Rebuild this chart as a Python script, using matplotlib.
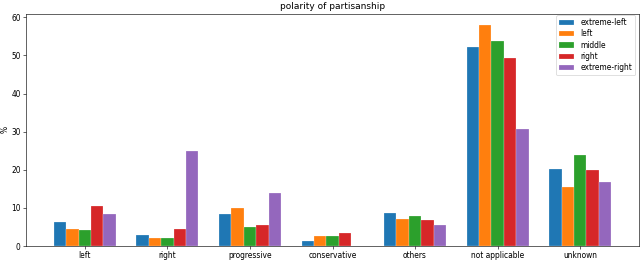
import numpy as np
import matplotlib
matplotlib.use("Agg")
import matplotlib.pyplot as plt

categories = ["left", "right", "progressive", "conservative", "others", "not applicable", "unknown"]
series_names = ["extreme-left", "left", "middle", "right", "extreme-right"]
extreme_left = [6.2, 2.8, 8.3, 1.3, 8.6, 52.1, 20.2]
left = [4.4, 2.2, 9.9, 2.6, 7.1, 58.1, 15.4]
middle = [4.3, 2.2, 4.9, 2.5, 7.9, 53.8, 24.0]
right = [10.4, 4.4, 5.4, 3.4, 6.7, 49.2, 20.0]
extreme_right = [8.3, 24.9, 13.8, 0.0, 5.5, 30.6, 16.7]
series = [extreme_left, left, middle, right, extreme_right]

DPI = 54
fig, ax = plt.subplots(figsize=(640 / DPI, 260 / DPI), dpi=DPI)
x = np.arange(len(categories))
width = 0.15
for i, (name, vals) in enumerate(zip(series_names, series)):
    ax.bar(x + (i - 2) * width, vals, width, label=name,
           edgecolor="white", linewidth=0.3)

ax.set_xticks(x)
ax.set_xticklabels(categories)
ax.set_ylabel("%", labelpad=2)
ax.set_title("polarity of partisanship")
ax.set_ylim(0, 61)
ax.legend(loc="upper right", bbox_to_anchor=(1 - 4 / 613, 1 - 1.5 / 232.5),
          borderaxespad=0, labelspacing=0.3)
fig.subplots_adjust(left=26 / 640, right=639 / 640, top=1 - 13.5 / 260, bottom=1 - 246 / 260)
fig.savefig("out.png", dpi=DPI)
